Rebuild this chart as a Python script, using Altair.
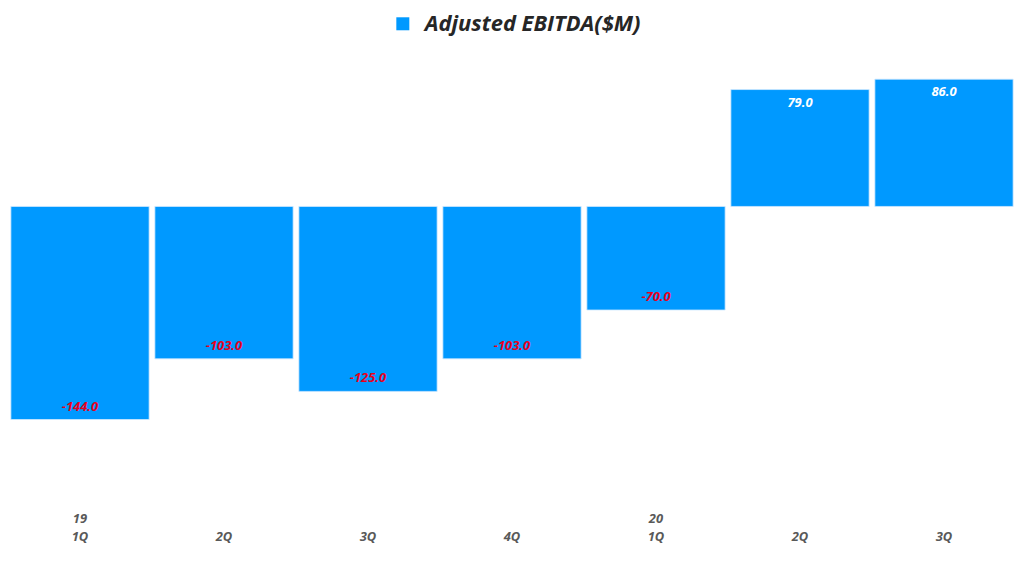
import altair as alt
import pandas as pd

categories = ["19 1Q", "19 2Q", "19 3Q", "19 4Q", "20 1Q", "20 2Q", "20 3Q"]
values = [-144.0, -103.0, -125.0, -103.0, -70.0, 79.0, 86.0]
series_name = "Adjusted EBITDA($M)"

df = pd.DataFrame({"cat": categories, "value": values, "series": series_name})
df["label"] = df["value"].map(lambda v: f"{v:.1f}")

FONT = "Open Sans"

x = alt.X(
    "cat:N",
    sort=categories,
    scale=alt.Scale(paddingInner=0.04, paddingOuter=0.02),
    axis=alt.Axis(
        title=None,
        domain=False,
        ticks=False,
        labelAngle=0,
        labelPadding=10,
        labelFont=FONT,
        labelFontSize=13,
        labelFontWeight="bold",
        labelFontStyle="italic",
        labelColor="#595959",
        labelLineHeight=18,
        labelBaseline="top",
        labelExpr="split(datum.label,' ')[1]=='1Q' ? split(datum.label,' ') : ['', split(datum.label,' ')[1]]",
    ),
)
y = alt.Y("value:Q", scale=alt.Scale(domain=[-200, 112], nice=False, zero=True), axis=None)

bars = alt.Chart(df).mark_bar(stroke="#cfe9ff", strokeWidth=0.8).encode(
    x=x,
    y=y,
    y2=alt.datum(0),
    color=alt.Color(
        "series:N",
        scale=alt.Scale(range=["#0099FF"]),
        legend=alt.Legend(
            title=None,
            orient="none",
            legendX=385,
            legendY=-28,
            symbolType="square",
            symbolSize=170,
            symbolStrokeWidth=0,
            labelFont=FONT,
            labelFontSize=22,
            labelFontWeight="bold",
            labelFontStyle="italic",
            labelColor="#262626",
            labelOffset=11,
            padding=0,
            labelLimit=400,
        ),
    ),
)

neg = alt.Chart(df).transform_filter("datum.value < 0").mark_text(
    dy=-13, font=FONT, fontSize=13, fontWeight="bold", fontStyle="italic", color="#E8001C", baseline="middle"
).encode(x=x, y=y, text="label:N")

pos = alt.Chart(df).transform_filter("datum.value >= 0").mark_text(
    dy=13, font=FONT, fontSize=13, fontWeight="bold", fontStyle="italic", color="#FFFFFF", baseline="middle"
).encode(x=x, y=y, text="label:N")

chart = (
    alt.layer(bars, neg, pos)
    .properties(
        width=1011,
        height=463,
        background="white",
        autosize=alt.AutoSizeParams(type="none"),
        padding={"left": 0, "top": 32, "right": 0, "bottom": 64},
    )
    .configure_view(strokeWidth=0, stroke="transparent")
)

chart.save("out.html", embed_options={"renderer": "svg", "actions": False})
